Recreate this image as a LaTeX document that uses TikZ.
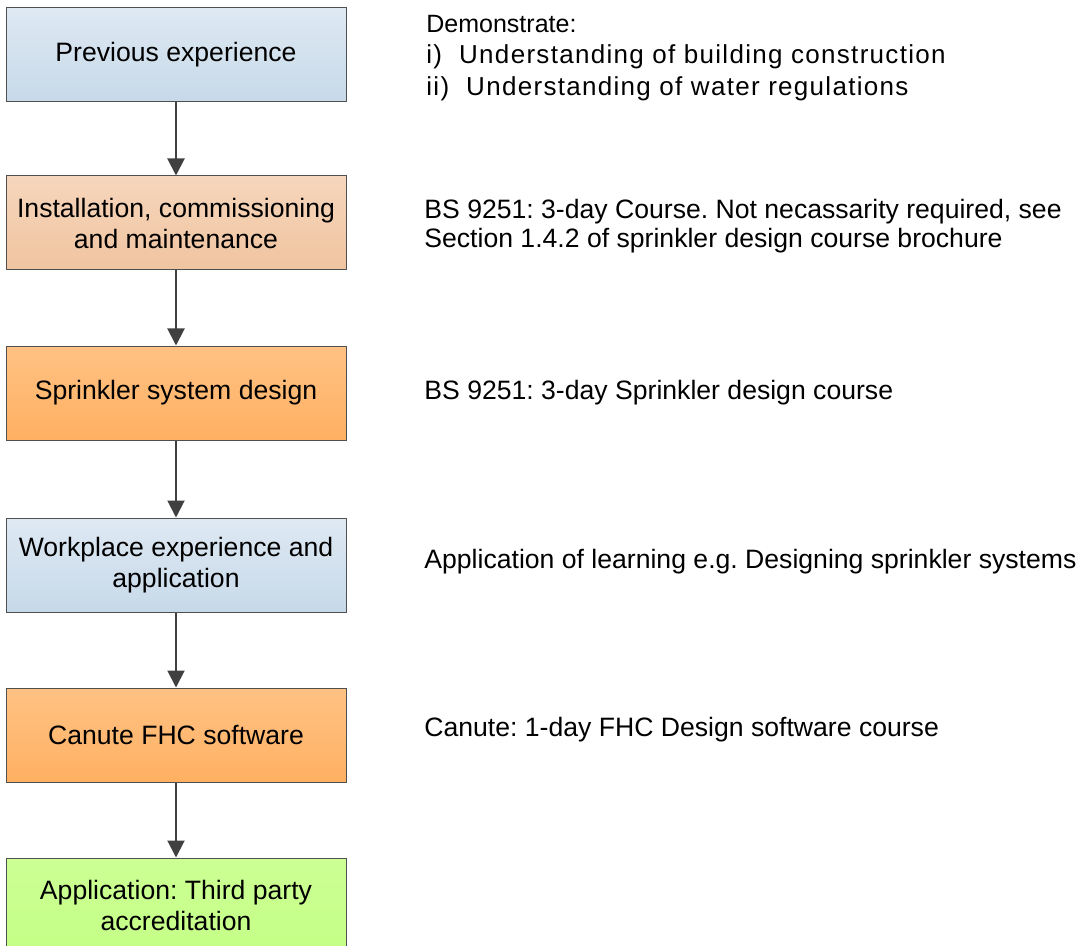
\documentclass[tikz,border=0pt]{standalone}
\usepackage{fontspec}
\setmainfont{Liberation Sans}
\usetikzlibrary{arrows.meta,positioning}
\definecolor{edge}{HTML}{505050}
\definecolor{arrowgray}{HTML}{404040}
\tikzset{
  stage/.style={draw=edge,line width=0.5pt,minimum width=170pt,minimum height=47pt,
    align=center,font=\fontsize{13.3}{15.5}\selectfont,inner sep=2pt},
  blue/.style={stage,top color={rgb,255:red,222;green,233;blue,243},bottom color={rgb,255:red,199;green,217;blue,233}},
  peach/.style={stage,top color={rgb,255:red,246;green,214;blue,188},bottom color={rgb,255:red,240;green,196;blue,160}},
  orange/.style={stage,top color={rgb,255:red,255;green,194;blue,132},bottom color={rgb,255:red,255;green,176;blue,98}},
  green/.style={stage,top color={rgb,255:red,204;green,255;blue,148},bottom color={rgb,255:red,196;green,255;blue,134}},
  note/.style={anchor=west,align=left,inner sep=0pt,font=\fontsize{13.3}{15}\selectfont},
  link/.style={draw=arrowgray,line width=1pt,-{Triangle[width=8.5pt,length=8.5pt]}}
}
\begin{document}
\frenchspacing
\begin{tikzpicture}[x=0.5pt,y=-0.5pt]
  \useasboundingbox (0,0) rectangle (1080,946);
  % stages
  \node[blue]   (prev)   at (176,55)  {Previous experience};
  \node[peach]  (inst)   at (176,223) {Installation, commissioning\\and maintenance};
  \node[orange] (design) at (176,393) {Sprinkler system design};
  \node[blue]   (work)   at (176,565) {Workplace experience and\\application};
  \node[orange] (canute) at (176,735) {Canute FHC software};
  \node[green]  (third)  at (176,905) {Application: Third party\\accreditation};
  % connectors
  \foreach \a/\b in {prev/inst,inst/design,design/work,work/canute,canute/third}
    \draw[link] (\a.south) -- (\b.north);
  % notes
  \node[note,font=\fontsize{12.5}{15.75}\selectfont] (demo) at (426,58)
    {Demonstrate:\\
     {\fontsize{13}{15.75}\selectfont\addfontfeature{LetterSpace=5}i)\ \ Understanding of building construction}\\
     {\fontsize{13}{15.75}\selectfont\addfontfeature{LetterSpace=5}ii)\ \ Understanding of water regulations}};
  \node[note,font=\fontsize{13.3}{14.5}\selectfont] (bs) at (424,226)
    {BS 9251: 3-day Course. Not necassarity required, see\\Section 1.4.2 of sprinkler design course brochure};
  \node[note] (course) at (424,393) {BS 9251: 3-day Sprinkler design course};
  \node[note] (learn) at (424,562) {Application of learning e.g. Designing sprinkler systems};
  \node[note] (fhc) at (424,730) {Canute: 1-day FHC Design software course};
\end{tikzpicture}
\end{document}
